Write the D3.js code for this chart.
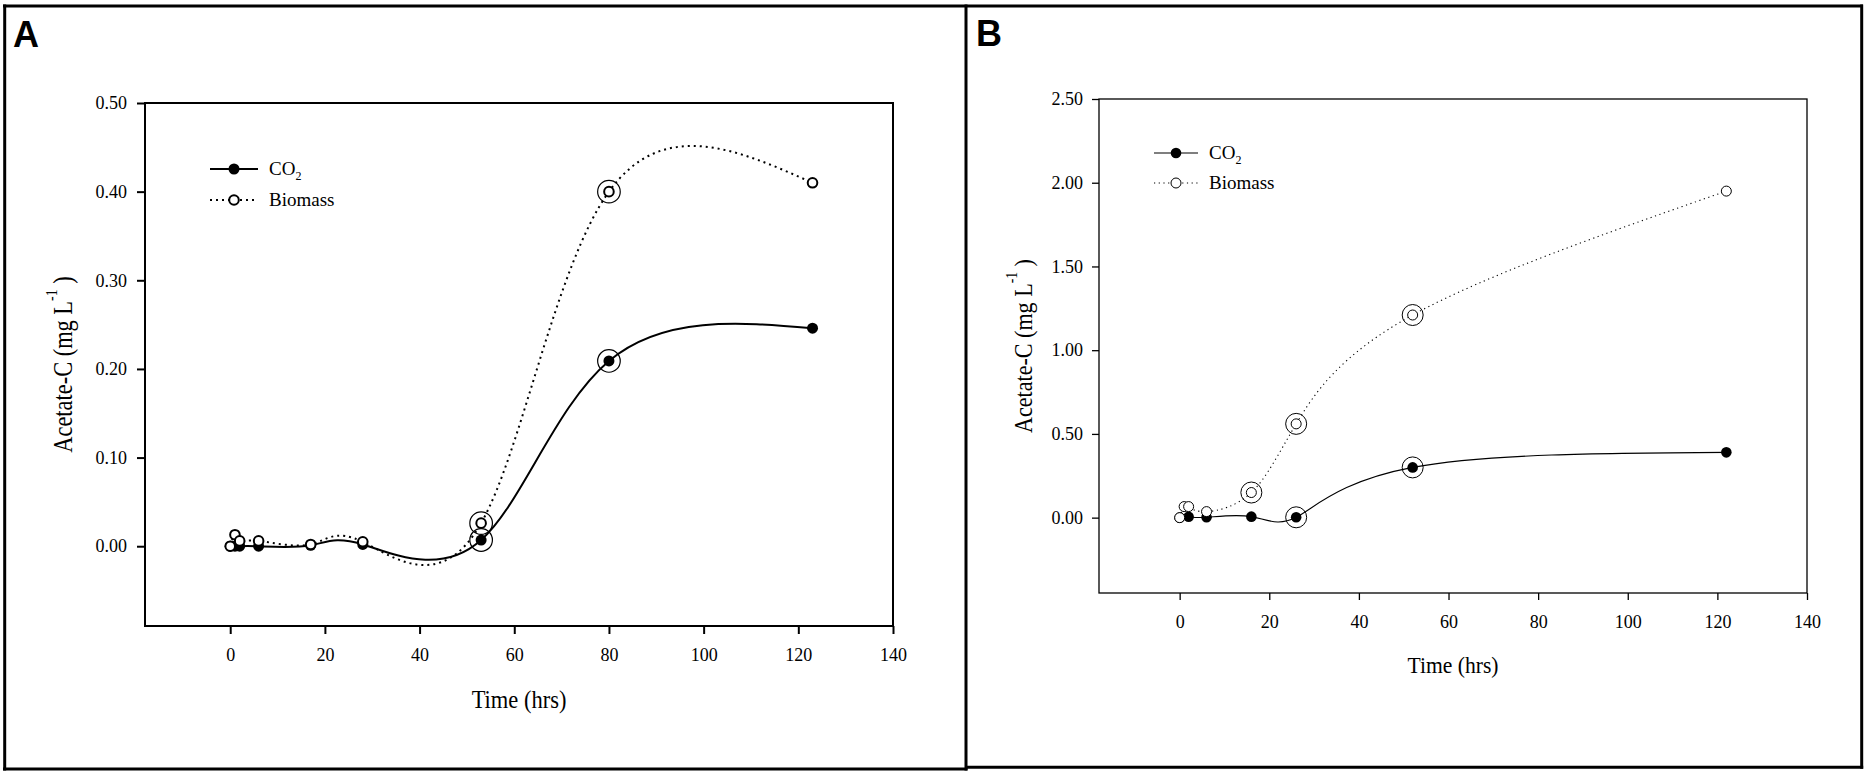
<!DOCTYPE html>
<html>
<head>
<meta charset="utf-8">
<script src="https://cdn.jsdelivr.net/npm/d3@7"></script>
<style>
  html, body { margin: 0; padding: 0; background: #fff; }
  svg { display: block; }
</style>
</head>
<body>
<script>
// ---------------- DATA ----------------
const seriesNames = ["CO2", "Biomass"];
const xTicks = [0, 20, 40, 60, 80, 100, 120, 140];

// Panel A
const timeCo2A = [0, 1, 2, 6, 17, 28, 53, 80, 123];
const co2A     = [0, 0, 0, 0, 0.001, 0.002, 0.007, 0.209, 0.246];
const timeBioA = [0, 1, 2, 6, 17, 28, 53, 80, 123];
const bioA     = [0, 0.013, 0.006, 0.006, 0.002, 0.005, 0.026, 0.40, 0.41];
const ringCo2A = [53, 80];
const ringBioA = [53, 80];
const yTicksA  = [0, 0.1, 0.2, 0.3, 0.4, 0.5];

// Panel B
const timeCo2B = [0, 2, 6, 16, 26, 52, 122];
const co2B     = [0, 0.005, 0.002, 0.006, 0.002, 0.30, 0.39];
const timeBioB = [0, 1, 2, 6, 16, 26, 52, 122];
const bioB     = [0, 0.066, 0.066, 0.036, 0.15, 0.56, 1.21, 1.95];
const ringCo2B = [26, 52];
const ringBioB = [16, 26, 52];
const yTicksB  = [0, 0.5, 1.0, 1.5, 2.0, 2.5];

// ---------------- RENDER ----------------
const W = 1866, H = 776;
const SERIF = "'Liberation Serif', 'Times New Roman', serif";
const SANS = "'Liberation Sans', Arial, sans-serif";

const svg = d3.select("body").append("svg")
  .attr("width", W).attr("height", H)
  .style("background", "#fff");

function zip(t, v) { return t.map((d, i) => [d, v[i]]); }

function panel(cfg) {
  const x = d3.scaleLinear().domain([-18, 140]).range([cfg.left, cfg.right]);
  const y = d3.scaleLinear().domain(cfg.yDomain).range([cfg.bottom, cfg.top]);
  const g = svg.append("g");

  // frame
  g.append("rect")
    .attr("x", cfg.left).attr("y", cfg.top)
    .attr("width", cfg.right - cfg.left).attr("height", cfg.bottom - cfg.top)
    .attr("fill", "none").attr("stroke", "#000").attr("stroke-width", cfg.axisW);

  // y axis
  g.append("g")
    .attr("transform", `translate(${cfg.left},0)`)
    .call(d3.axisLeft(y).tickValues(cfg.yTicks).tickFormat(d3.format(".2f"))
      .tickSize(cfg.tick).tickPadding(cfg.yPad))
    .call(s => s.select(".domain").remove())
    .call(s => s.selectAll("line").attr("stroke", "#000").attr("stroke-width", cfg.axisW))
    .call(s => s.selectAll("text").attr("fill", "#000"))
    .attr("font-family", SERIF).attr("font-size", 18);

  // x axis
  g.append("g")
    .attr("transform", `translate(0,${cfg.bottom})`)
    .call(d3.axisBottom(x).tickValues(xTicks).tickFormat(d3.format("d"))
      .tickSize(cfg.tick).tickPadding(cfg.xPad))
    .call(s => s.select(".domain").remove())
    .call(s => s.selectAll("line").attr("stroke", "#000").attr("stroke-width", cfg.axisW))
    .call(s => s.selectAll("text").attr("fill", "#000"))
    .attr("font-family", SERIF).attr("font-size", 18);

  // axis titles
  const yl = g.append("text")
    .attr("transform", `translate(${cfg.yLabelX},${(cfg.top + cfg.bottom) / 2}) rotate(-90) scale(${cfg.yLabelSx},1)`)
    .attr("text-anchor", "middle").attr("dominant-baseline", "central")
    .attr("font-family", SERIF).attr("font-size", cfg.yLabelFs).attr("fill", "#000");
  yl.append("tspan").text("Acetate-C (mg L");
  yl.append("tspan").attr("font-size", cfg.yLabelFs * 0.62).attr("dy", -cfg.yLabelFs * 0.42).text("-1");
  yl.append("tspan").attr("dy", cfg.yLabelFs * 0.42).text(" )");

  g.append("text")
    .attr("transform", `translate(${(cfg.left + cfg.right) / 2},${cfg.xTitleY}) scale(${cfg.xTitleSx},1)`)
    .attr("text-anchor", "middle").attr("dominant-baseline", "central")
    .attr("font-family", SERIF).attr("font-size", cfg.xTitleFs).attr("fill", "#000")
    .text("Time (hrs)");

  const line = d3.line().x(d => x(d[0])).y(d => y(d[1])).curve(d3.curveNatural);

  const co2 = zip(cfg.timeCo2, cfg.co2);
  const bio = zip(cfg.timeBio, cfg.bio);

  g.append("path").attr("d", line(bio)).attr("fill", "none")
    .attr("stroke", "#000").attr("stroke-width", cfg.lineW).attr("stroke-dasharray", cfg.dash);
  g.append("path").attr("d", line(co2)).attr("fill", "none")
    .attr("stroke", "#000").attr("stroke-width", cfg.lineW);

  g.append("g").selectAll("circle").data(co2).join("circle")
    .attr("cx", d => x(d[0])).attr("cy", d => y(d[1])).attr("r", cfg.rFill).attr("fill", "#000");
  g.append("g").selectAll("circle").data(bio).join("circle")
    .attr("cx", d => x(d[0])).attr("cy", d => y(d[1])).attr("r", cfg.rOpen)
    .attr("fill", "#fff").attr("stroke", "#000").attr("stroke-width", cfg.openW);

  // significance rings
  const rings = co2.filter(d => cfg.ringCo2.includes(d[0]))
    .concat(bio.filter(d => cfg.ringBio.includes(d[0])));
  g.append("g").selectAll("circle").data(rings).join("circle")
    .attr("cx", d => x(d[0])).attr("cy", d => y(d[1])).attr("r", cfg.rRing)
    .attr("fill", "none").attr("stroke", "#000").attr("stroke-width", cfg.ringW);

  // legend
  const L = cfg.legend;
  const lg = g.append("g");
  seriesNames.forEach((name, i) => {
    const yy = L.y + i * L.dy;
    lg.append("line").attr("x1", L.x1).attr("x2", L.x2).attr("y1", yy).attr("y2", yy)
      .attr("stroke", "#000").attr("stroke-width", cfg.lineW)
      .attr("stroke-dasharray", i === 1 ? cfg.dash : null);
    lg.append("circle").attr("cx", (L.x1 + L.x2) / 2).attr("cy", yy)
      .attr("r", i === 0 ? cfg.rFill : cfg.rOpen)
      .attr("fill", i === 0 ? "#000" : "#fff")
      .attr("stroke", i === 0 ? null : "#000").attr("stroke-width", cfg.openW);
    const t = lg.append("text").attr("x", L.tx).attr("y", yy + 6)
      .attr("font-family", SERIF).attr("font-size", 19).attr("fill", "#000");
    if (name === "CO2") {
      t.append("tspan").text("CO");
      t.append("tspan").attr("font-size", 12).attr("dy", 5).text("2");
    } else {
      t.text(name);
    }
  });

  // panel letter
  svg.append("text").attr("x", cfg.letterX).attr("y", cfg.letterY)
    .attr("font-family", SANS).attr("font-weight", "bold").attr("font-size", 36)
    .attr("fill", "#000").text(cfg.letter);
}

panel({
  letter: "A", letterX: 13, letterY: 47,
  left: 145, right: 893, top: 103, bottom: 626,
  yDomain: [-0.09, 0.5], yTicks: yTicksA,
  tick: 8, yPad: 10, xPad: 14, axisW: 2,
  yLabelX: 62, yLabelFs: 27, yLabelSx: 0.83,
  xTitleY: 700, xTitleFs: 25, xTitleSx: 0.9,
  timeCo2: timeCo2A, co2: co2A, timeBio: timeBioA, bio: bioA,
  ringCo2: ringCo2A, ringBio: ringBioA,
  lineW: 2, dash: "2,4", rFill: 5.5, rOpen: 4.8, openW: 2, rRing: 11.3, ringW: 1.2,
  legend: { x1: 210, x2: 258, y: 169, dy: 31, tx: 269 }
});

panel({
  letter: "B", letterX: 976, letterY: 46,
  left: 1099, right: 1807, top: 99, bottom: 593,
  yDomain: [-0.45, 2.5], yTicks: yTicksB,
  tick: 7, yPad: 9, xPad: 15, axisW: 1.3,
  yLabelX: 1023, yLabelFs: 26, yLabelSx: 0.85,
  xTitleY: 665, xTitleFs: 24, xTitleSx: 0.9,
  timeCo2: timeCo2B, co2: co2B, timeBio: timeBioB, bio: bioB,
  ringCo2: ringCo2B, ringBio: ringBioB,
  lineW: 1.1, dash: "1.2,3.5", rFill: 5.3, rOpen: 5, openW: 1, rRing: 10.5, ringW: 1,
  legend: { x1: 1154, x2: 1198, y: 153, dy: 30, tx: 1209 }
});

// outer panel borders
const borders = svg.append("g").attr("stroke", "#000").attr("stroke-width", 3);
borders.append("line").attr("x1", 3).attr("x2", 1863).attr("y1", 6).attr("y2", 6);
borders.append("line").attr("x1", 4.7).attr("x2", 4.7).attr("y1", 4.5).attr("y2", 770.5);
borders.append("line").attr("x1", 966).attr("x2", 966).attr("y1", 4.5).attr("y2", 770.5);
borders.append("line").attr("x1", 3).attr("x2", 967.5).attr("y1", 769).attr("y2", 769);
borders.append("line").attr("x1", 966).attr("x2", 1863.2).attr("y1", 767.3).attr("y2", 767.3);
borders.append("line").attr("x1", 1861.7).attr("x2", 1861.7).attr("y1", 4.5).attr("y2", 768.8);
</script>
</body>
</html>
